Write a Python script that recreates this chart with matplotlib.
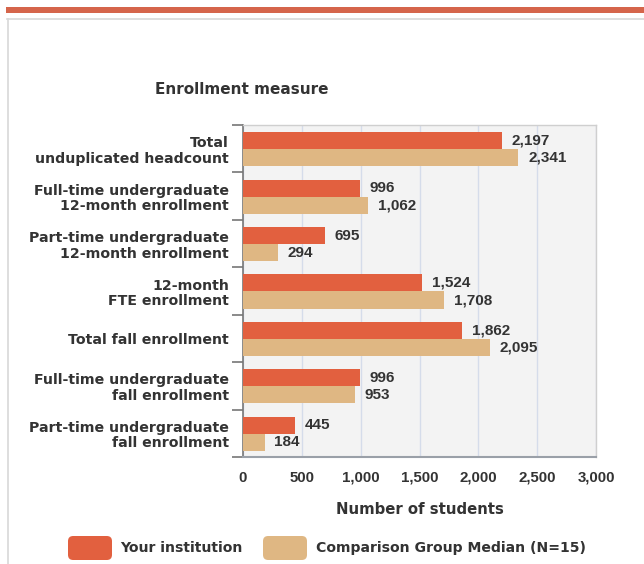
import matplotlib
matplotlib.use("Agg")
import matplotlib.pyplot as plt
from matplotlib.patches import FancyBboxPatch, Rectangle
from matplotlib.lines import Line2D
import numpy as np

categories = [
    "Total\nunduplicated headcount",
    "Full-time undergraduate\n12-month enrollment",
    "Part-time undergraduate\n12-month enrollment",
    "12-month\nFTE enrollment",
    "Total fall enrollment",
    "Full-time undergraduate\nfall enrollment",
    "Part-time undergraduate\nfall enrollment",
]
your_institution = [2197, 996, 695, 1524, 1862, 996, 445]
comparison_median = [2341, 1062, 294, 1708, 2095, 953, 184]
series_names = ["Your institution", "Comparison Group Median (N=15)"]
xticks = [0, 500, 1000, 1500, 2000, 2500, 3000]

RED = "#e2603f"
TAN = "#dfb783"
TXT = "#333333"
WORDS = ['DejaVu Sans']
NUMS = ['Liberation Sans', 'DejaVu Sans']

plt.rcParams['font.family'] = NUMS

W, H = 644, 564
fig = plt.figure(figsize=(W / 100, H / 100), dpi=100)
fig.patch.set_facecolor("white")

def fx(px):
    return px / W

def fy(py):
    return 1 - py / H

# decorative frame
fig.add_artist(Rectangle((fx(6), fy(12.5)), fx(644 - 6), 5.5 / H, transform=fig.transFigure,
                         facecolor="#d5654b", edgecolor="none"))
fig.add_artist(Line2D([fx(7), fx(644)], [fy(18.5), fy(18.5)], transform=fig.transFigure,
                      color="#d8d8d8", lw=1.2))
fig.add_artist(Line2D([fx(7.5), fx(7.5)], [fy(18.5), 0], transform=fig.transFigure,
                      color="#d8d8d8", lw=1.2))

left, right, top, bottom = 243, 596, 125, 457
ax = fig.add_axes([fx(left), fy(bottom), fx(right - left), (bottom - top) / H])
ax.set_facecolor("#f3f3f3")

n = len(categories)
y = np.arange(n)
bh = 0.36
ax.barh(y - bh / 2 + 0.01, your_institution, height=bh, color=RED, zorder=3)
ax.barh(y + bh / 2 + 0.01, comparison_median, height=bh, color=TAN, zorder=3)

for i in range(n):
    ax.annotate(f"{your_institution[i]:,}", (your_institution[i], y[i] - bh / 2 + 0.01),
                xytext=(7, 0), textcoords="offset points", va="center", ha="left",
                fontsize=11, fontweight="bold", color=TXT, family=NUMS)
    ax.annotate(f"{comparison_median[i]:,}", (comparison_median[i], y[i] + bh / 2 + 0.01),
                xytext=(7, 0), textcoords="offset points", va="center", ha="left",
                fontsize=11, fontweight="bold", color=TXT, family=NUMS)

ax.set_xlim(0, 3000)
ax.set_ylim(n - 0.5, -0.5)
ax.set_xticks(xticks)
ax.set_xticklabels([f"{v:,}" for v in xticks], fontsize=10.8, fontweight="bold", color=TXT,
                   family=NUMS)
ax.tick_params(axis="x", length=0, pad=10)
ax.xaxis.grid(True, color="#d5dcea", lw=1, zorder=0)
ax.set_axisbelow(True)

ax.set_yticks(y)
ax.set_yticklabels(categories, fontsize=10.2, fontweight="bold", color=TXT, linespacing=1.15,
                   family=WORDS)
ax.tick_params(axis="y", which="major", length=0, pad=10)
ax.set_yticks(np.arange(n + 1) - 0.5, minor=True)
ax.tick_params(axis="y", which="minor", length=8, direction="out", color="#777777", width=1.2)

for s in ["top", "right"]:
    ax.spines[s].set_color("#cfcfcf")
    ax.spines[s].set_linewidth(1)
ax.spines["left"].set_color("#777777")
ax.spines["left"].set_linewidth(1.2)
ax.spines["bottom"].set_color("#9aa0a8")
ax.spines["bottom"].set_linewidth(1.5)

ax.set_xlabel("Number of students", fontsize=10.7, fontweight="bold", color=TXT, labelpad=12,
              family=WORDS)

fig.text(fx(155), fy(90), "Enrollment measure", fontsize=11, fontweight="bold",
         color=TXT, ha="left", va="center", family=WORDS)

# legend
def legend_item(x0, color, label, tx):
    fig.add_artist(FancyBboxPatch((fx(x0), fy(560)), fx(44), 24 / H,
                                  boxstyle="round,pad=0,rounding_size=0.008",
                                  transform=fig.transFigure, facecolor=color, edgecolor="none",
                                  mutation_aspect=W / H))
    fig.text(fx(tx), fy(548), label, fontsize=10.1, fontweight="bold", color=TXT,
             ha="left", va="center", family=WORDS)

legend_item(68, RED, series_names[0], 120)
legend_item(263, TAN, series_names[1], 316)

fig.savefig("out.png", dpi=100)
